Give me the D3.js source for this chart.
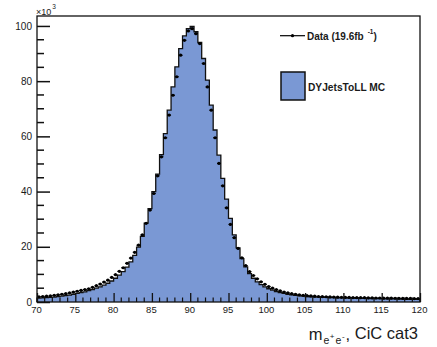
<!DOCTYPE html>
<html>
<head>
<meta charset="utf-8">
<script src="https://cdn.jsdelivr.net/npm/d3@7"></script>
<style>
  html, body { margin: 0; padding: 0; background: #fff; }
  svg { display: block; }
  text { font-family: "Liberation Sans", Arial, Helvetica, sans-serif; fill: #1a1a1a; }
</style>
</head>
<body>
<svg id="chart" width="437" height="347"></svg>
<script>
// Di-electron invariant mass, 0.5 GeV bins from 70 to 120 GeV (counts in units of 10^3)
const binLow = 70, binHigh = 120, binWidth = 0.5;

// Simulated Drell-Yan histogram contents
const mcValues = [
  1.4, 1.5, 1.6, 1.7, 1.8, 2.0, 2.1, 2.3, 2.5, 2.8,
  3.1, 3.4, 3.7, 4.1, 4.5, 5.0, 5.5, 6.1, 6.8, 7.6,
  8.6, 9.7, 11.0, 12.6, 14.5, 16.9, 19.9, 23.8, 28.6, 33.8,
  40.0, 46.3, 53.4, 61.0, 69.5, 77.9, 85.2, 91.8, 96.4, 99.0,
  99.8, 97.9, 94.0, 88.2, 80.4, 71.3, 62.3, 53.2, 44.8, 37.3,
  30.3, 24.3, 19.6, 15.7, 12.7, 10.3, 8.6, 7.3, 6.3, 5.5,
  4.8, 4.3, 3.8, 3.4, 3.1, 2.8, 2.6, 2.4, 2.2, 2.1,
  2.0, 1.9, 1.8, 1.75, 1.7, 1.65, 1.6, 1.55, 1.5, 1.5,
  1.45, 1.4, 1.4, 1.35, 1.3, 1.3, 1.25, 1.25, 1.2, 1.2,
  1.15, 1.15, 1.1, 1.1, 1.05, 1.05, 1.0, 1.0, 1.0, 0.95
];

// Observed events per bin
const dataValues = [
  1.9, 2.0, 2.1, 2.2, 2.4, 2.6, 2.8, 3.0, 3.3, 3.6,
  3.9, 4.2, 4.5, 4.8, 5.3, 5.9, 6.5, 7.2, 7.9, 8.9,
  9.9, 11.1, 12.4, 14.0, 15.9, 18.0, 20.6, 24.3, 28.5, 33.3,
  39.3, 45.7, 52.6, 59.5, 67.7, 74.9, 81.6, 89.4, 94.8, 98.2,
  99.0, 97.2, 93.6, 86.4, 77.9, 69.5, 59.5, 50.2, 42.1, 34.1,
  28.1, 23.3, 19.4, 16.0, 13.2, 11.0, 9.6, 8.4, 7.3, 6.4,
  5.6, 5.0, 4.5, 4.0, 3.6, 3.3, 3.0, 2.8, 2.6, 2.4,
  2.3, 2.2, 2.1, 2.0, 1.95, 1.9, 1.85, 1.8, 1.75, 1.7,
  1.7, 1.65, 1.6, 1.6, 1.55, 1.55, 1.5, 1.5, 1.45, 1.45,
  1.4, 1.4, 1.4, 1.35, 1.35, 1.3, 1.3, 1.3, 1.25, 1.25
];

const xMajorTicks = [70, 75, 80, 85, 90, 95, 100, 105, 110, 115, 120];
const yMajorTicks = [0, 20, 40, 60, 80, 100];
const legendLabels = ["Data (19.6fb", "DYJetsToLL MC"];

const mcFill = "#7a98d4";

const svg = d3.select("#chart");
const frame = { left: 37, right: 420, top: 16, bottom: 302 };

const x = d3.scaleLinear().domain([binLow, binHigh]).range([frame.left, frame.right]);
const y = d3.scaleLinear().domain([0, 103.6]).range([frame.bottom, frame.top]);

const bins = mcValues.map((v, i) => ({
  lo: binLow + i * binWidth,
  hi: binLow + (i + 1) * binWidth,
  mc: v,
  data: dataValues[i]
}));

// MC histogram as a filled step outline
const stepPts = [[binLow, 0]];
bins.forEach(b => { stepPts.push([b.lo, b.mc]); stepPts.push([b.hi, b.mc]); });
stepPts.push([binHigh, 0]);

const area = d3.area().x(d => x(d[0])).y0(y(0)).y1(d => y(d[1]));
const line = d3.line().x(d => x(d[0])).y(d => y(d[1]));

const plot = svg.append("g");
plot.append("path").datum(stepPts).attr("d", area).attr("fill", mcFill);
plot.append("path").datum(stepPts).attr("d", line)
  .attr("fill", "none").attr("stroke", "#111").attr("stroke-width", 1.3);

// Data points with bin-width horizontal bars
const pts = plot.append("g");
pts.selectAll("line.hbar").data(bins).join("line")
  .attr("class", "hbar")
  .attr("x1", d => x(d.lo)).attr("x2", d => x(d.hi))
  .attr("y1", d => y(d.data)).attr("y2", d => y(d.data))
  .attr("stroke", "#000").attr("stroke-width", 1.2);
pts.selectAll("circle").data(bins).join("circle")
  .attr("cx", d => x((d.lo + d.hi) / 2)).attr("cy", d => y(d.data))
  .attr("r", 1.6).attr("fill", "#000");

// Frame
const axes = svg.append("g").attr("stroke", "#111").attr("fill", "none");
axes.append("rect")
  .attr("x", frame.left).attr("y", frame.top)
  .attr("width", frame.right - frame.left).attr("height", frame.bottom - frame.top)
  .attr("stroke-width", 1.3);

// X axis ticks (major every 5, minor every 1), pointing up into the frame
const xAxis = d3.axisBottom(x).tickValues(xMajorTicks).tickSize(-9).tickPadding(4)
  .tickFormat(d3.format("d"));
const gx = svg.append("g").attr("transform", `translate(0,${frame.bottom})`).call(xAxis);
gx.select(".domain").remove();
gx.selectAll(".tick line").attr("stroke", "#111").attr("stroke-width", 1.3);
gx.selectAll(".tick text").attr("font-size", 9.5).attr("fill", "#222").attr("dy", "0.71em")
  .attr("transform", "translate(-1,0)");
const xMinor = d3.range(binLow, binHigh + 0.001, 1).filter(v => v % 5 !== 0);
svg.append("g").selectAll("line").data(xMinor).join("line")
  .attr("x1", d => x(d)).attr("x2", d => x(d))
  .attr("y1", frame.bottom).attr("y2", frame.bottom - 4.5)
  .attr("stroke", "#111").attr("stroke-width", 1.2);

// Y axis ticks (major every 20, minor every 5), pointing right into the frame
const yAxis = d3.axisLeft(y).tickValues(yMajorTicks).tickSize(-13).tickPadding(5)
  .tickFormat(d3.format("d"));
const gy = svg.append("g").attr("transform", `translate(${frame.left},0)`).call(yAxis);
gy.select(".domain").remove();
gy.selectAll(".tick line").attr("stroke", "#111").attr("stroke-width", 1.5);
gy.selectAll(".tick text").attr("font-size", 10).attr("fill", "#222");
const yMinor = d3.range(0, 104, 5).filter(v => v % 20 !== 0);
svg.append("g").selectAll("line").data(yMinor).join("line")
  .attr("x1", frame.left).attr("x2", frame.left + 7)
  .attr("y1", d => y(d)).attr("y2", d => y(d))
  .attr("stroke", "#111").attr("stroke-width", 1.5);

// Exponent label above the y axis
const expo = svg.append("text").attr("x", 36).attr("y", 14.5).attr("font-size", 9);
expo.append("tspan").text("\u00d710");
expo.append("tspan").attr("font-size", 6.5).attr("dy", -6).attr("dx", 1).text("3");

// X axis title
const xt = svg.append("text").attr("x", 418).attr("y", 339.5)
  .attr("text-anchor", "end").attr("font-size", 16.5);
xt.append("tspan").text("m");
xt.append("tspan").attr("font-size", 10.5).attr("dy", 4).attr("dx", 1).text("e");
xt.append("tspan").attr("font-size", 8).attr("dy", -5).attr("dx", 0.5).text("+");
xt.append("tspan").attr("font-size", 10.5).attr("dy", 5).attr("dx", 1).text("e");
xt.append("tspan").attr("font-size", 8).attr("dy", -5).attr("dx", 0.5).text("-");
xt.append("tspan").attr("dy", 1).attr("dx", 1).text(",");
xt.append("tspan").attr("dy", -1).text(" CiC cat3");

// Legend
const leg = svg.append("g");
leg.append("line").attr("x1", 280).attr("x2", 305).attr("y1", 35.7).attr("y2", 35.7)
  .attr("stroke", "#000").attr("stroke-width", 1.2);
leg.append("circle").attr("cx", 292.5).attr("cy", 35.7).attr("r", 1.6).attr("fill", "#000");
const lt = leg.append("text").attr("x", 307).attr("y", 39.5).attr("font-size", 10)
  .attr("font-weight", "bold");
lt.append("tspan").text(legendLabels[0]);
lt.append("tspan").attr("font-size", 6.5).attr("dy", -6).attr("dx", 4).text("-1");
lt.append("tspan").attr("dy", 6).text(")");
leg.append("rect").attr("x", 281).attr("y", 72).attr("width", 24).attr("height", 28)
  .attr("fill", mcFill).attr("stroke", "#111").attr("stroke-width", 1.5);
leg.append("text").attr("x", 308).attr("y", 90.5).attr("font-size", 10.2)
  .attr("font-weight", "bold").text(legendLabels[1]);
</script>
</body>
</html>
